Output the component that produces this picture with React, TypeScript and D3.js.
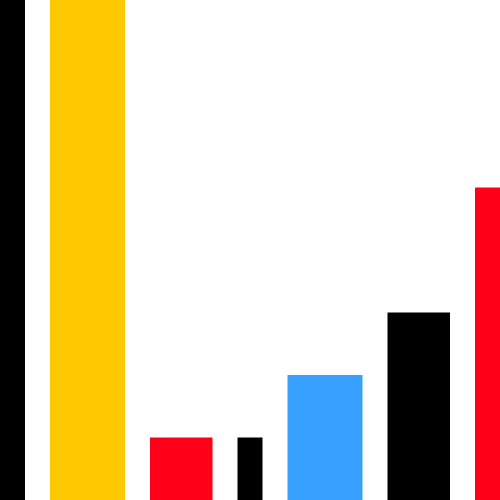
import { useEffect, useMemo } from "react";
import * as d3 from "d3";

const WIDTH = 500;
const HEIGHT = 500;

// bar data: category, value, relative width weight, colour
const categories = ["a", "b", "c", "d", "e", "f", "g"];
const values = [13, 8, 1, 1, 2, 3, 5];
const weights = [2, 6, 5, 2, 6, 5, 6];
const colors = ["#000000", "#ffc800", "#ff0019", "#000000", "#38a0ff", "#000000", "#ff0019"];

const GAP = 2; // in weight units
const X_DOMAIN_MAX = 40;
const Y_DOMAIN_MAX = 8;

export default function App() {
  useEffect(() => {
    document.body.style.margin = "0";
  }, []);

  const bars = useMemo(() => {
    let cursor = 0;
    return categories.map((cat, i) => {
      const start = cursor;
      cursor += weights[i] + GAP;
      return { cat, start, end: start + weights[i], value: values[i], color: colors[i] };
    });
  }, []);

  const xScale = d3.scaleLinear().domain([0, X_DOMAIN_MAX]).range([0, WIDTH]);
  const yScale = d3.scaleLinear().domain([0, Y_DOMAIN_MAX]).range([HEIGHT, 0]);

  return (
    <svg width={WIDTH} height={HEIGHT} style={{ display: "block" }}>
      <defs>
        <clipPath id="plot">
          <rect x={0} y={0} width={WIDTH} height={HEIGHT} />
        </clipPath>
      </defs>
      <rect x={0} y={0} width={WIDTH} height={HEIGHT} fill="#ffffff" />
      <g clipPath="url(#plot)">
        {bars.map((b) => (
          <rect
            key={b.cat}
            x={xScale(b.start)}
            y={yScale(b.value)}
            width={xScale(b.end) - xScale(b.start)}
            height={yScale(0) - yScale(b.value)}
            fill={b.color}
          />
        ))}
      </g>
    </svg>
  );
}
